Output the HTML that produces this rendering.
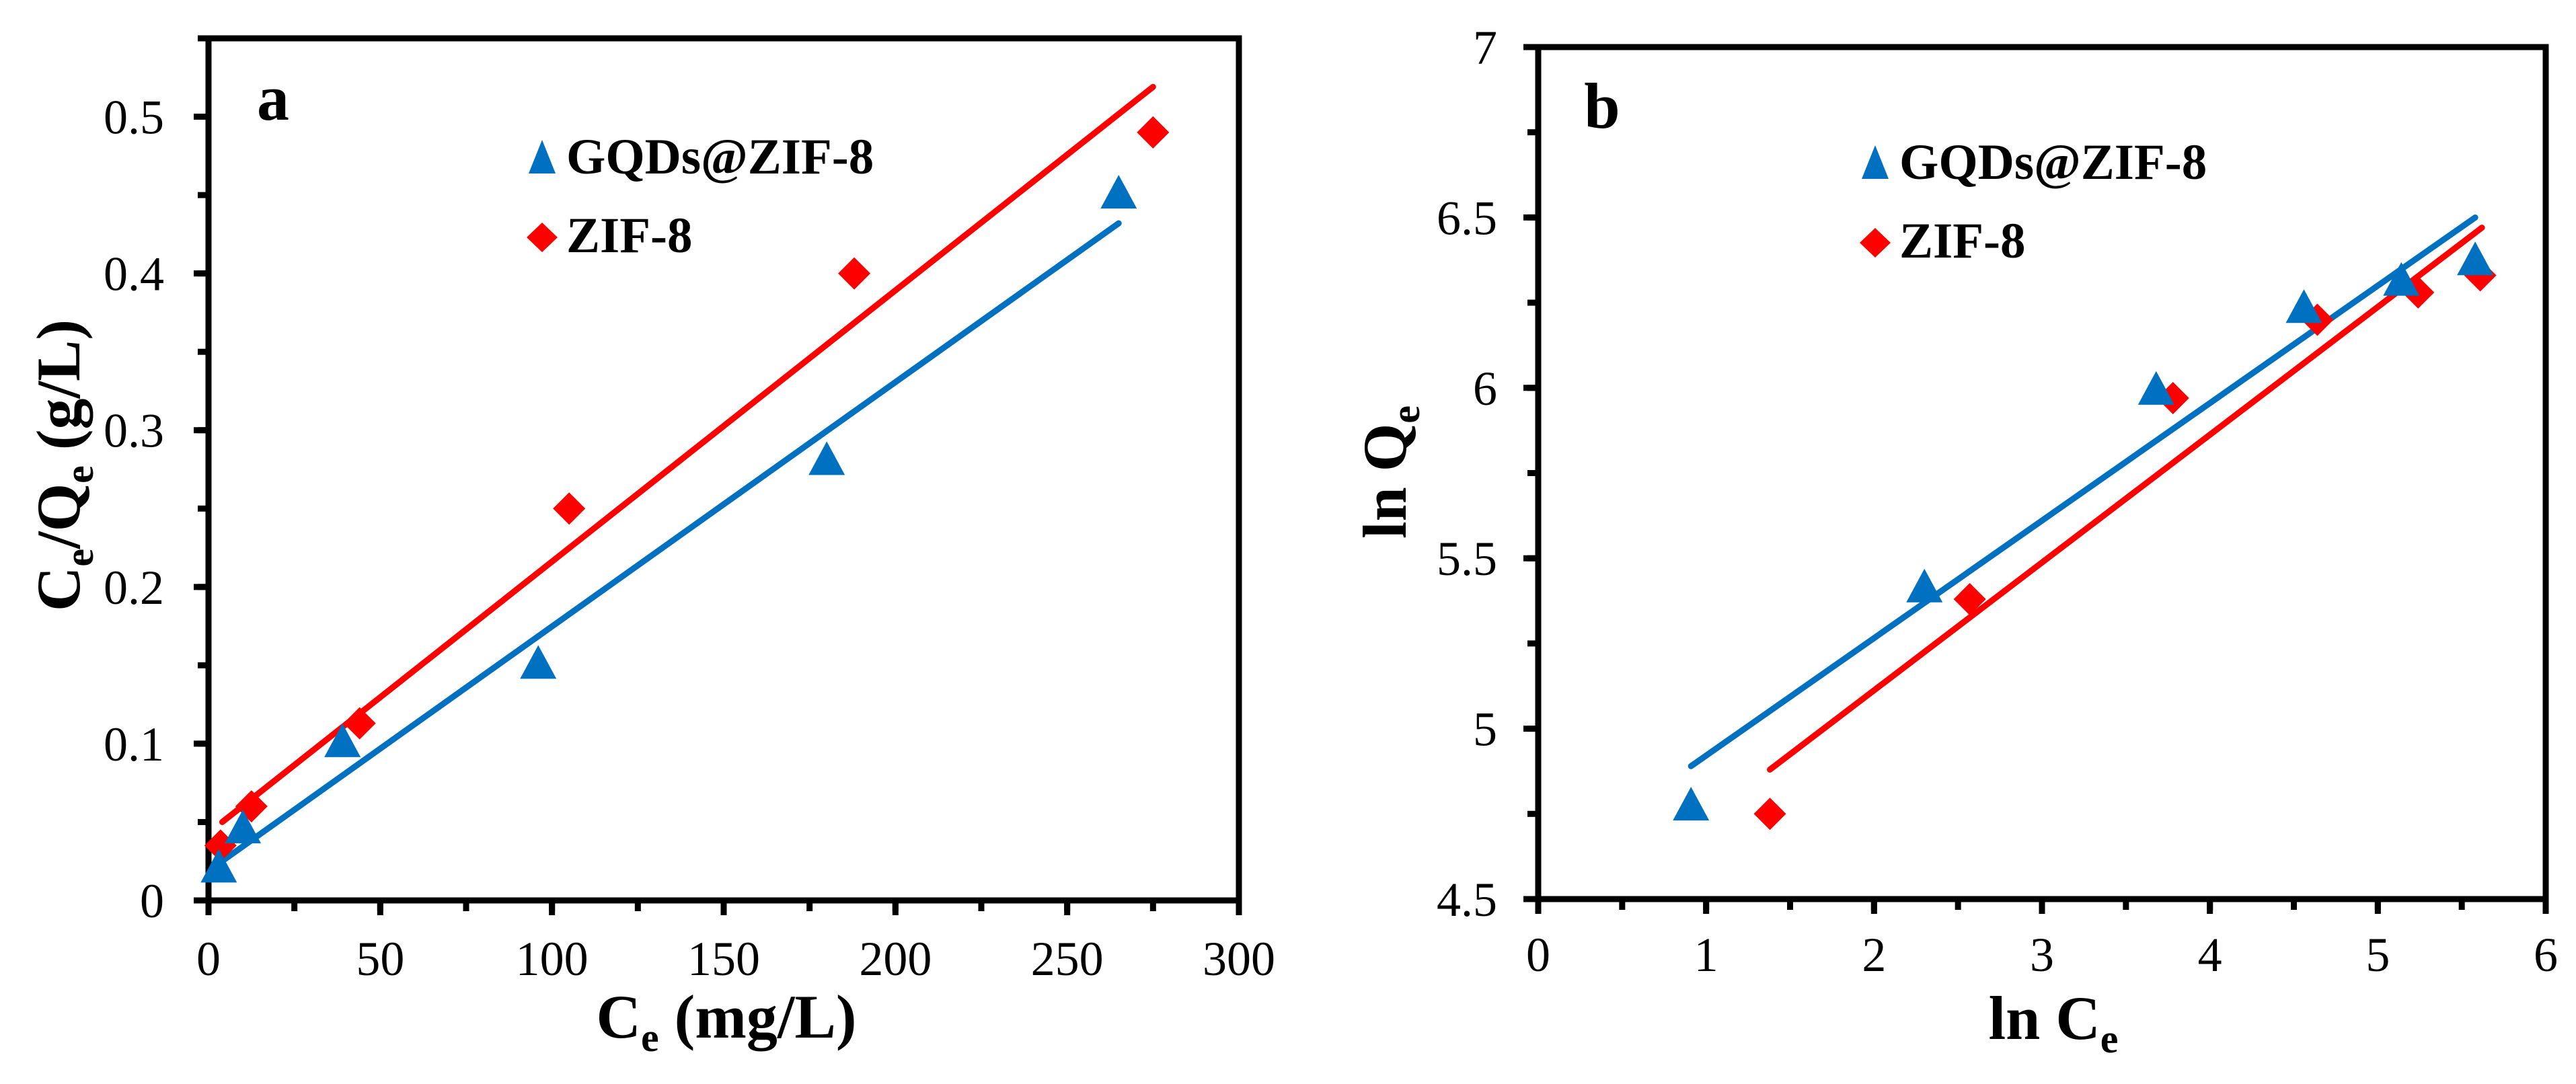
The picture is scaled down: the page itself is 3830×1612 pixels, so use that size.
<!DOCTYPE html>
<html><head><meta charset="utf-8"><style>
html,body{margin:0;padding:0;background:#fff;}
svg{display:block;font-family:"Liberation Serif",serif;}
</style></head><body>
<svg id="fig" width="3830" height="1612" viewBox="0 0 3830 1612" xmlns="http://www.w3.org/2000/svg">
<g id="pa"></g>
<g id="pb"></g>
</svg>
<script>
// Panel a data
const aGqdX = [3, 10, 39, 96, 180, 265];
const aGqdY = [0.02, 0.045, 0.1, 0.15, 0.28, 0.45];
const aZifX = [3.5, 12.5, 44, 105, 188, 275];
const aZifY = [0.035, 0.06, 0.113, 0.25, 0.4, 0.49];
const aGqdFit = [[2, 0.022], [265, 0.432]];
const aZifFit = [[4, 0.05], [275, 0.519]];
const aXTicks = [0, 50, 100, 150, 200, 250, 300];
const aXTickLabels = ["0", "50", "100", "150", "200", "250", "300"];
const aYTicks = [0, 0.1, 0.2, 0.3, 0.4, 0.5];
const aYTickLabels = ["0", "0.1", "0.2", "0.3", "0.4", "0.5"];
// Panel b data
const bGqdX = [0.91, 2.3, 3.68, 4.56, 5.14, 5.58];
const bGqdY = [4.77, 5.41, 5.99, 6.23, 6.31, 6.37];
const bZifX = [1.38, 2.57, 3.78, 4.64, 5.24, 5.61];
const bZifY = [4.75, 5.38, 5.97, 6.2, 6.28, 6.33];
const bGqdFit = [[0.91, 4.89], [5.58, 6.5]];
const bZifFit = [[1.38, 4.88], [5.62, 6.47]];
const bXTicks = [0, 1, 2, 3, 4, 5, 6];
const bXTickLabels = ["0", "1", "2", "3", "4", "5", "6"];
const bYTicks = [4.5, 5, 5.5, 6, 6.5, 7];
const bYTickLabels = ["4.5", "5", "5.5", "6", "6.5", "7"];

const NS = "http://www.w3.org/2000/svg";
function mk(parent, tag, attrs, text) {
  const el = document.createElementNS(NS, tag);
  for (const k in attrs) el.setAttribute(k, attrs[k]);
  if (text !== undefined) el.textContent = text;
  parent.appendChild(el);
  return el;
}
const BLUE = "#0070C0", RED = "#FF0000";

function panel(g, cfg) {
  const L = cfg.L, R = cfg.R, T = cfg.T, B = cfg.B;
  const sx = v => L + (v - cfg.x0) / (cfg.x1 - cfg.x0) * (R - L);
  const sy = v => B - (v - cfg.y0) / (cfg.y1 - cfg.y0) * (B - T);
  // minor ticks
  for (let v = cfg.x0; v <= cfg.x1 + 1e-9; v += cfg.xMinor) {
    const t = mk(g, "line", {x1: sx(v), x2: sx(v), y1: B, y2: B + 16, stroke: "#000", "stroke-width": 9});
    
    
  }
  for (let v = cfg.y0; v <= cfg.y1 + 1e-9; v += cfg.yMinor) {
    const t = mk(g, "line", {x1: L - 16, x2: L, y1: sy(v), y2: sy(v), stroke: "#000", "stroke-width": 9});
    
    
  }
  cfg.xTicks.forEach((v, i) => {
    const t = mk(g, "line", {x1: sx(v), x2: sx(v), y1: B, y2: B + 22, stroke: "#000", "stroke-width": 9});
    
    
    const tx = mk(g, "text", {x: sx(v), y: cfg.xLabY, "font-size": 72, "text-anchor": "middle"}, cfg.xLabels[i]);
    
    
  });
  cfg.yTicks.forEach((v, i) => {
    const t = mk(g, "line", {x1: L - 22, x2: L, y1: sy(v), y2: sy(v), stroke: "#000", "stroke-width": 9});
    
    
    const tx = mk(g, "text", {x: cfg.yLabX, y: sy(v) + 25, "font-size": 72, "text-anchor": "end"}, cfg.yLabels[i]);
    
    
  });
  const fr = mk(g, "rect", {x: L, y: T, width: R - L, height: B - T, fill: "none", stroke: "#000", "stroke-width": 9});
  
  
  // fit lines
  [[cfg.gFit, BLUE, 'gqds-fit-line'], [cfg.zFit, RED, 'zif8-fit-line']].forEach(f => {
    const ln = mk(g, "line", {x1: sx(f[0][0][0]), y1: sy(f[0][0][1]), x2: sx(f[0][1][0]), y2: sy(f[0][1][1]), stroke: f[1], "stroke-width": 9, "stroke-linecap": "round"});
    
    
  });
  // markers
  const tri = (cx, cy) => `${cx},${cy - 30} ${cx - 27},${cy + 20} ${cx + 27},${cy + 20}`;
  const dia = (cx, cy) => `${cx},${cy - 24} ${cx + 24},${cy} ${cx},${cy + 24} ${cx - 24},${cy}`;
  cfg.zX.forEach((v, i) => {
    const p = mk(g, "polygon", {points: dia(sx(v), sy(cfg.zY[i])), fill: RED});
    
    
  });
  cfg.gX.forEach((v, i) => {
    const p = mk(g, "polygon", {points: tri(sx(v), sy(cfg.gY[i])), fill: BLUE});
    
    
  });
  // legend
  const lx = cfg.legX, ly = cfg.legY;
  const lt = mk(g, "polygon", {points: `${lx},${ly - 50} ${lx - 20},${ly} ${lx + 20},${ly}`, fill: BLUE});
  
  
  const l1 = mk(g, "text", {x: lx + 36, y: ly, "font-size": 75, "font-weight": "bold"}, "GQDs@ZIF-8");
  
  
  const ld = mk(g, "polygon", {points: `${lx},${ly + 73} ${lx + 23},${ly + 95} ${lx},${ly + 117} ${lx - 23},${ly + 95}`, fill: RED});
  
  
  const l2 = mk(g, "text", {x: lx + 36, y: ly + 117, "font-size": 75, "font-weight": "bold"}, "ZIF-8");
  
  
  const pl = mk(g, "text", {x: cfg.tagX, y: cfg.tagY, "font-size": 96, "font-weight": "bold", "text-anchor": "middle"}, cfg.tag);
  
  
}

panel(document.getElementById('pa'), {
  L: 310, R: 1842, T: 57, B: 1339, x0: 0, x1: 300, y0: 0, y1: 0.55, xMinor: 25, yMinor: 0.05,
  xTicks: aXTicks, xLabels: aXTickLabels, yTicks: aYTicks, yLabels: aYTickLabels,
  xLabY: 1450, yLabX: 244, gX: aGqdX, gY: aGqdY, zX: aZifX, zY: aZifY, gFit: aGqdFit, zFit: aZifFit,
  legX: 806, legY: 258, tag: "a", tagX: 406, tagY: 178
});
panel(document.getElementById('pb'), {
  L: 2287, R: 3785, T: 70, B: 1337, x0: 0, x1: 6, y0: 4.5, y1: 7, xMinor: 0.5, yMinor: 0.25,
  xTicks: bXTicks, xLabels: bXTickLabels, yTicks: bYTicks, yLabels: bYTickLabels,
  xLabY: 1444, yLabX: 2226, gX: bGqdX, gY: bGqdY, zX: bZifX, zY: bZifY, gFit: bGqdFit, zFit: bZifFit,
  legX: 2788, legY: 266, tag: "b", tagX: 2382, tagY: 190
});
</script>
<svg width="0" height="0" style="position:absolute"></svg>
<div style="position:absolute;left:0;top:0;width:3830px;height:1612px;pointer-events:none;">
<svg width="3830" height="1612" viewBox="0 0 3830 1612" style="font-family:'Liberation Serif',serif;">
<text x="1080" y="1543" font-size="92" font-weight="bold" text-anchor="middle">C<tspan font-size="60" dy="20">e</tspan><tspan dy="-20"> (mg/L)</tspan></text>
<text transform="translate(118,692) rotate(-90)" font-size="92" font-weight="bold" text-anchor="middle">C<tspan font-size="60" dy="20">e</tspan><tspan dy="-20">/Q</tspan><tspan font-size="60" dy="20">e</tspan><tspan dy="-20"> (g/L)</tspan></text>
<text x="3053" y="1545" font-size="92" font-weight="bold" text-anchor="middle">ln C<tspan font-size="60" dy="20">e</tspan></text>
<text transform="translate(2090,702) rotate(-90)" font-size="92" font-weight="bold" text-anchor="middle">ln Q<tspan font-size="60" dy="20">e</tspan></text>
</svg></div>
</body></html>
